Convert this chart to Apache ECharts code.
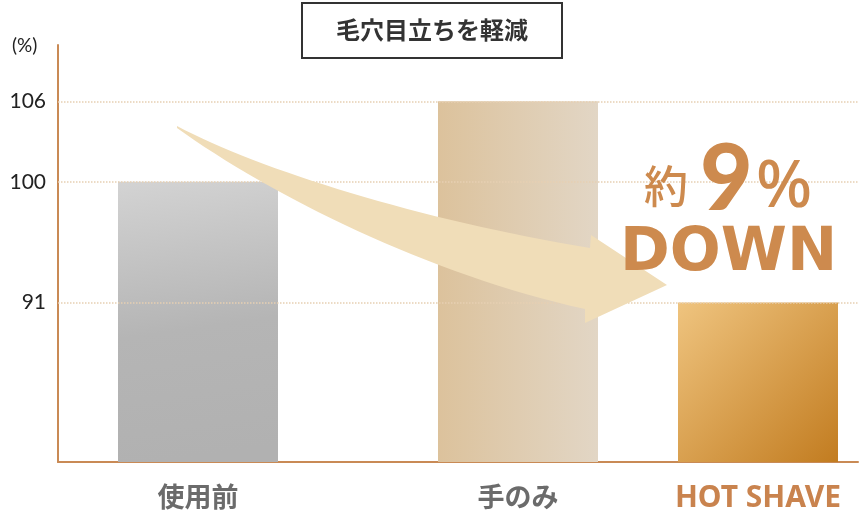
<!DOCTYPE html>
<html><head><meta charset="utf-8">
<script src="https://cdn.jsdelivr.net/npm/echarts@6/dist/echarts.min.js"></script>
<style>html,body{margin:0;padding:0;background:#fff}#c{width:860px;height:520px}</style>
</head><body><div id="c"></div>
<script>
const categories = ['使用前', '手のみ', 'HOT SHAVE'];
const values = [100, 106, 91];
const refLines = [106, 100, 91];
const titleText = '毛穴目立ちを軽減';
const unitText = '(%)';

const yMin = 79.1, yMax = 110.2;
const axisColor = '#c98a55';
const accent = '#cd8a4e';
const fills = [
  new echarts.graphic.LinearGradient(0, 0, 0.25, 1, [{offset: 0, color: '#d3d3d3'}, {offset: 0.55, color: '#b5b5b5'}, {offset: 1, color: '#b1b1b1'}]),
  new echarts.graphic.LinearGradient(0, 0, 1, 0, [{offset: 0, color: '#dcc29c'}, {offset: 1, color: '#e2d6c5'}]),
  new echarts.graphic.LinearGradient(0, 0, 1, 1, [{offset: 0, color: '#efc47f'}, {offset: 1, color: '#c27c20'}])
];
const labelColors = ['#6b6b6b', '#6b6b6b', '#c9834e'];
const barLefts = [118, 438, 678];

// decorative curved arrow
echarts.graphic.registerShape('curvedArrow', echarts.graphic.extendShape({
  shape: {},
  buildPath: function (ctx) {
    ctx.moveTo(177, 126);
    ctx.bezierCurveTo(260, 170, 420, 220, 590, 248);
    ctx.lineTo(591, 235);
    ctx.lineTo(667, 285);
    ctx.lineTo(585, 323);
    ctx.lineTo(585, 309);
    ctx.bezierCurveTo(430, 275, 270, 195, 177, 128);
    ctx.closePath();
  }
}));

const grids = [{left: 58, right: 2, top: 45, bottom: 58}];
const xAxes = [{gridIndex: 0, type: 'value', min: 0, max: 1,
  axisLine: {show: true, lineStyle: {color: axisColor, width: 2}}, axisTick: {show: false}, axisLabel: {show: false}, splitLine: {show: false}}];
const yAxes = [{gridIndex: 0, type: 'value', min: yMin, max: yMax,
  axisLine: {show: true, lineStyle: {color: axisColor, width: 2}}, axisTick: {show: false}, axisLabel: {show: false}, splitLine: {show: false}}];
const series = [{
  type: 'line', xAxisIndex: 0, yAxisIndex: 0, data: [], silent: true, z: 1,
  markLine: {
    silent: true, symbol: ['none', 'none'],
    lineStyle: {color: '#e6cfb2', type: 'dotted', width: 1.5},
    label: {position: 'start', distance: 12, formatter: p => String(p.value), color: '#222', fontSize: 21, fontFamily: 'Lato', fontWeight: 400},
    data: refLines.map(v => ({yAxis: v}))
  }
}];

categories.forEach((cat, i) => {
  const gi = i + 1;
  grids.push({left: barLefts[i], width: 160, top: 45, bottom: 58});
  xAxes.push({gridIndex: gi, type: 'category', data: [cat],
    axisLine: {show: false}, axisTick: {show: false}, splitLine: {show: false},
    axisLabel: {margin: 21, color: labelColors[i], fontSize: i === 2 ? 30 : 27, fontWeight: 'bold',
      fontFamily: i === 2 ? 'Noto Sans' : 'Noto Sans CJK JP'}});
  yAxes.push({gridIndex: gi, type: 'value', min: yMin, max: yMax, show: false});
  series.push({type: 'bar', xAxisIndex: gi, yAxisIndex: gi, barWidth: '100%', z: 2,
    itemStyle: {color: fills[i]}, data: [values[i]]});
});

const chart = echarts.init(document.getElementById('c'));
chart.setOption({
  animation: false,
  title: {text: titleText, left: 302, top: 3, padding: [12, 34, 13, 34], borderColor: '#333', borderWidth: 2,
    textStyle: {fontSize: 24, fontWeight: 'bold', color: '#333', fontFamily: 'Noto Sans CJK JP', lineHeight: 30}},
  grid: grids, xAxis: xAxes, yAxis: yAxes, series: series,
  graphic: [
    {type: 'text', x: 12, y: 46, style: {text: unitText, fontSize: 19, fill: '#222', fontFamily: 'Lato', fontWeight: 400, verticalAlign: 'middle'}},
    {type: 'curvedArrow', z: 50, shape: {}, style: {fill: '#f0ddb8'}},
    {type: 'text', z: 60, x: 644, y: 186, style: {text: '約', fontSize: 44, fill: accent, fontFamily: 'Noto Sans CJK JP', fontWeight: 500, verticalAlign: 'middle'}},
    {type: 'text', z: 60, x: 700, y: 181, style: {text: '9', fontSize: 91, fill: accent, fontFamily: 'Lato', fontWeight: 900, verticalAlign: 'middle'}},
    {type: 'text', z: 60, x: 756, y: 188, style: {text: '%', fontSize: 66, fill: accent, fontFamily: 'Noto Sans', fontWeight: 500, verticalAlign: 'middle'}},
    {type: 'text', z: 60, x: 620, y: 254, style: {text: 'DOWN', fontSize: 60, fill: accent, fontFamily: 'DejaVu Sans', fontWeight: 'bold', verticalAlign: 'middle'}}
  ]
});
</script></body></html>
